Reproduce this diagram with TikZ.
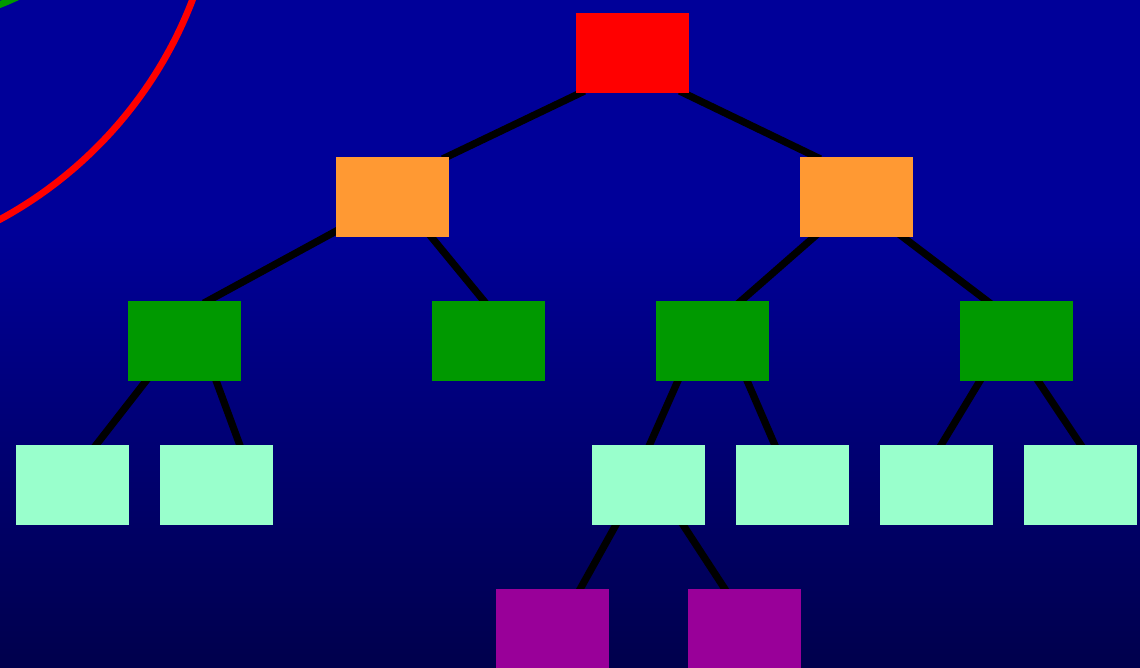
\documentclass[tikz,border=0pt]{standalone}
\usepackage{tikz}
\usetikzlibrary{calc, backgrounds}
\definecolor{CRed}{HTML}{FF0000}
\definecolor{COrange}{HTML}{FF9933}
\definecolor{CGreen}{HTML}{009900}
\definecolor{CMint}{HTML}{99FFCC}
\definecolor{CPurple}{HTML}{990099}
\definecolor{CSkyTop}{HTML}{000099}
\definecolor{CSkyBot}{HTML}{00004C}
\pgfdeclarelayer{edges}
\pgfsetlayers{background,edges,main}
\pgfdeclareverticalshading{skyfade}{100bp}{color(0bp)=(CSkyBot); color(25bp)=(CSkyBot); color(58bp)=(CSkyTop); color(100bp)=(CSkyTop)}

\begin{document}
\begin{tikzpicture}[
    x=0.02cm, y=-0.02cm,
    box/.style={rectangle, inner sep=0pt, minimum width=2.26cm, minimum height=1.6cm},
    edge/.style={line width=0.145cm, black, shorten <=-3pt, shorten >=-3pt},
    ring/.style={line width=0.135cm}
]
\useasboundingbox (0,0) rectangle (1140,668);
\begin{scope}[on background layer]
\shade[shading=skyfade] (0,0) rectangle (1140,668);
\end{scope}

% arcs in the corner
\begin{scope}
\clip (0,0) rectangle (1140,668);
\draw[ring, CRed] (-200,-150) circle (420);
\draw[ring, CGreen] (-94,-238) circle (260);
\end{scope}

% tree
\node[box, fill=CRed] (r) at (632.5,53) {};
\node[box, fill=COrange] (o1) at (392.5,197) {};
\node[box, fill=COrange] (o2) at (856.5,197) {};
\node[box, fill=CGreen] (g1) at (184.5,341) {};
\node[box, fill=CGreen] (g2) at (488.5,341) {};
\node[box, fill=CGreen] (g3) at (712.5,341) {};
\node[box, fill=CGreen] (g4) at (1016.5,341) {};
\node[box, fill=CMint] (m1) at (72.5,485) {};
\node[box, fill=CMint] (m2) at (216.5,485) {};
\node[box, fill=CMint] (m3) at (648.5,485) {};
\node[box, fill=CMint] (m4) at (792.5,485) {};
\node[box, fill=CMint] (m5) at (936.5,485) {};
\node[box, fill=CMint] (m6) at (1080.5,485) {};
\node[box, fill=CPurple] (p1) at (552.5,629) {};
\node[box, fill=CPurple] (p2) at (744.5,629) {};

\begin{pgfonlayer}{edges}
\draw[edge] ($(r.south west)+(4,0)$) -- ($(o1.north east)+(-2,0)$);
\draw[edge] ($(r.south east)+(-5,0)$) -- ($(o2.north west)+(16,0)$);
\draw[edge] ($(o1.south west)+(0,-6)$) -- ($(g1.north east)+(-33,0)$);
\draw[edge] ($(o1.south west)+(96,0)$) -- ($(g2.north west)+(52,0)$);
\draw[edge] ($(o2.south west)+(14,0)$) -- ($(g3.north east)+(-28,0)$);
\draw[edge] ($(o2.south east)+(-10,0)$) -- ($(g4.north west)+(27,0)$);
\draw[edge] ($(g1.south west)+(18,0)$) -- ($(m1.north east)+(-33,0)$);
\draw[edge] ($(g1.south east)+(-25,0)$) -- ($(m2.north west)+(80,0)$);
\draw[edge] ($(g3.south west)+(22,0)$) -- ($(m3.north west)+(58,0)$);
\draw[edge] ($(g3.south east)+(-22,0)$) -- ($(m4.north west)+(39,0)$);
\draw[edge] ($(g4.south west)+(20,0)$) -- ($(m5.north east)+(-52,0)$);
\draw[edge] ($(g4.south east)+(-35,0)$) -- ($(m6.north west)+(57,0)$);
\draw[edge] ($(m3.south west)+(24,0)$) -- ($(p1.north east)+(-29,0)$);
\draw[edge] ($(m3.south east)+(-22,0)$) -- ($(p2.north west)+(37,0)$);
\end{pgfonlayer}
\end{tikzpicture}
\end{document}
